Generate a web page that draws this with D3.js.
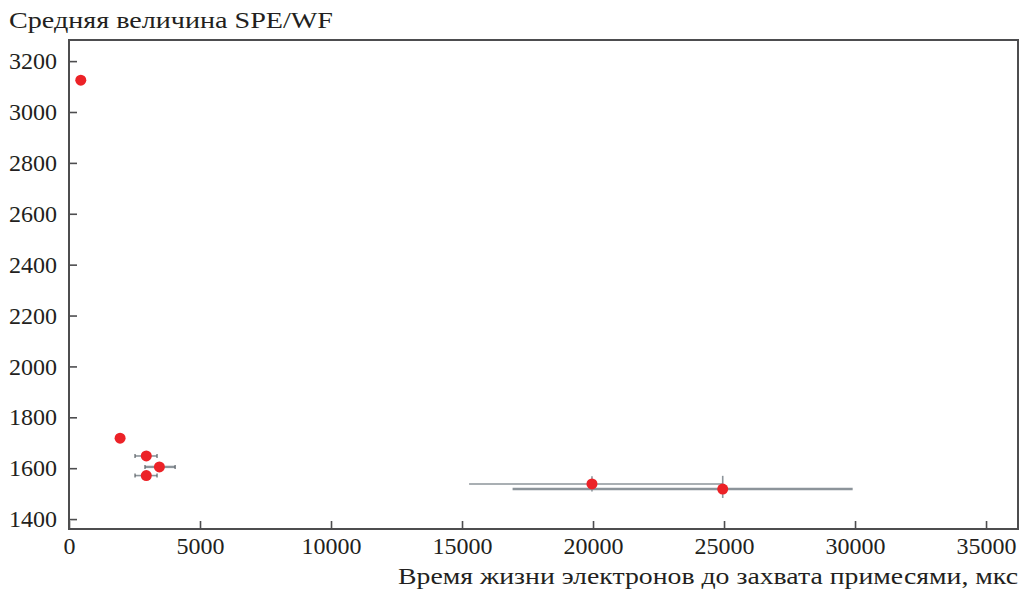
<!DOCTYPE html>
<html><head><meta charset="utf-8">
<script src="https://cdn.jsdelivr.net/npm/d3@7"></script>
<style>body{margin:0;background:#fff}svg{display:block}svg text{font-family:"Liberation Serif","Times New Roman",serif !important;fill:#231f20}</style>
</head><body><svg id="c" width="1021" height="589"></svg>
<script>
const xTicks = [0,5000,10000,15000,20000,25000,30000,35000];
const yTicks = [1400,1600,1800,2000,2200,2400,2600,2800,3000,3200];
const xVals = [450, 1950, 2950, 3450, 2950, 19960, 24950];
const yVals = [3125, 1718, 1648, 1605, 1571, 1538, 1518];
const xErrLo = [null, null, 2520, 2900, 2520, 15270, 16930];
const xErrHi = [null, null, 3360, 4050, 3360, 24960, 29910];
const yErrLo = [null, null, null, null, null, 1508, 1483];
const yErrHi = [null, null, null, null, null, 1568, 1570];
const yTitle = "Средняя величина SPE/WF";
const xTitle = "Время жизни электронов до захвата примесями, мкс";

const L=69,T=40,R=1018,B=529;
const x = d3.scaleLinear().domain([0,36220]).range([L,R]);
const y = d3.scaleLinear().domain([1361,3283]).range([B,T]);
const svg = d3.select("#c");
const fs = 24;

svg.append("rect").attr("x",L).attr("y",T).attr("width",R-L).attr("height",B-T)
  .attr("fill","none").attr("stroke","#4d4d4f").attr("stroke-width",2);

const ya = svg.append("g").attr("transform",`translate(${L},0)`)
  .call(d3.axisLeft(y).tickValues(yTicks).tickSize(-8).tickPadding(12).tickFormat(d3.format("d")));
const xa = svg.append("g").attr("transform",`translate(0,${B})`)
  .call(d3.axisBottom(x).tickValues(xTicks).tickSize(-8).tickPadding(8).tickFormat(d3.format("d")));
[ya,xa].forEach(g=>{
  g.attr("font-family",null).attr("font-size",null);
  g.select(".domain").remove();
  g.selectAll(".tick line").attr("stroke","#4d4d4f").attr("stroke-width",1.6);
  g.selectAll(".tick text").style("font-size",fs+"px").style("font-family","'Liberation Serif', serif").attr("fill","#231f20");
});

svg.append("text").attr("x",9).attr("y",28).attr("font-size",23)
  .attr("textLength",324).attr("lengthAdjust","spacingAndGlyphs").text(yTitle);
svg.append("text").attr("x",398).attr("y",584).attr("font-size",23)
  .attr("textLength",620).attr("lengthAdjust","spacingAndGlyphs").text(xTitle);

const data = xVals.map((v,i)=>({x:v,y:yVals[i],xl:xErrLo[i],xh:xErrHi[i],yl:yErrLo[i],yh:yErrHi[i]}));
const eg = svg.append("g");
data.forEach((d,i)=>{
  if(d.xl!=null){
    const w = (i===6||i===3)?2.4:1.6;
    eg.append("line").attr("x1",x(d.xl)).attr("x2",x(d.xh)).attr("y1",y(d.y)).attr("y2",y(d.y))
      .attr("stroke","#8c949a").attr("stroke-width",w);
    if(i<5){
      [d.xl,d.xh].forEach(v=>eg.append("line").attr("x1",x(v)).attr("x2",x(v))
        .attr("y1",y(d.y)-2).attr("y2",y(d.y)+2).attr("stroke","#5a6166").attr("stroke-width",1.2));
    }
  }
  if(d.yl!=null){
    eg.append("line").attr("x1",x(d.x)).attr("x2",x(d.x)).attr("y1",y(d.yl)).attr("y2",y(d.yh))
      .attr("stroke","#8c949a").attr("stroke-width",1.6);
  }
});
svg.append("g").selectAll("circle").data(data).join("circle")
  .attr("cx",d=>x(d.x)).attr("cy",d=>y(d.y)).attr("r",5.5).attr("fill","#ec2227");
</script></body></html>
